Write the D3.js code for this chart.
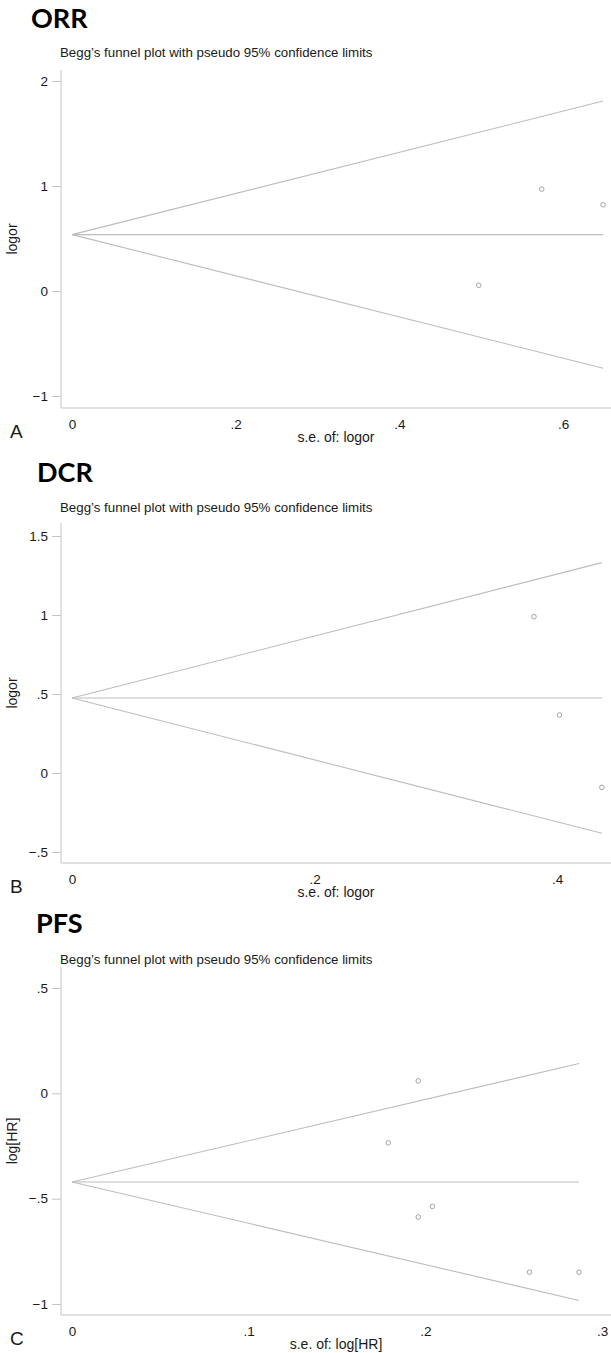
<!DOCTYPE html>
<html>
<head>
<meta charset="utf-8">
<script src="https://cdn.jsdelivr.net/npm/d3@7"></script>
<style>
  html, body { margin: 0; padding: 0; background: #fff; }
  svg { display: block; }
  text { font-family: "Liberation Sans", Arial, Helvetica, sans-serif; fill: #1a1a1a; }
  .ptitle { font-family: Lato, "Open Sans", sans-serif; font-weight: 700; fill: #000; }
</style>
</head>
<body>
<svg id="chart" width="611" height="1353"></svg>
<script>
// ---------------- DATA ----------------
const panelNames = ["ORR", "DCR", "PFS"];
const panelLetters = ["A", "B", "C"];
const subtitle = "Begg\u2019s funnel plot with pseudo 95% confidence limits";
const yTitles = ["logor", "logor", "log[HR]"];
const xTitles = ["s.e. of: logor", "s.e. of: logor", "s.e. of: log[HR]"];

// ORR (panel A)
const orrSe = [0.574, 0.649, 0.497];
const orrLogor = [0.970, 0.821, 0.054];
const orrTheta = 0.537;
const orrXTicks = [0, 0.2, 0.4, 0.6];
const orrXLabels = ["0", ".2", ".4", ".6"];
const orrYTicks = [-1, 0, 1, 2];
const orrYLabels = ["\u22121", "0", "1", "2"];

// DCR (panel B)
const dcrSe = [0.381, 0.402, 0.437];
const dcrLogor = [0.989, 0.367, -0.091];
const dcrTheta = 0.475;
const dcrXTicks = [0, 0.2, 0.4];
const dcrXLabels = ["0", ".2", ".4"];
const dcrYTicks = [-0.5, 0, 0.5, 1, 1.5];
const dcrYLabels = ["\u2212.5", "0", ".5", "1", "1.5"];

// PFS (panel C)
const pfsSe = [0.179, 0.196, 0.196, 0.204, 0.259, 0.287];
const pfsLogHR = [-0.235, 0.059, -0.587, -0.537, -0.849, -0.849];
const pfsTheta = -0.421;
const pfsXTicks = [0, 0.1, 0.2, 0.3];
const pfsXLabels = ["0", ".1", ".2", ".3"];
const pfsYTicks = [-1, -0.5, 0, 0.5];
const pfsYLabels = ["\u22121", "\u2212.5", "0", ".5"];

// ---------------- LAYOUT (pixels) ----------------
const layouts = [
  { titleX: 31, titleY: 28, subY: 57, top: 70, bottom: 408, xr: [72, 563], yd: [-1, 2], yr: [396, 81], xd: [0, 0.6] },
  { titleX: 37, titleY: 482, subY: 512, top: 523, bottom: 863, xr: [72, 557], yd: [-0.5, 1.5], yr: [852, 536], xd: [0, 0.4] },
  { titleX: 36, titleY: 933, subY: 964, top: 967, bottom: 1315, xr: [72, 602], yd: [-1, 0.5], yr: [1304, 988], xd: [0, 0.3] }
];
const axisLeft = 61, axisRight = 611;
const lineColor = "#bdbdbd";
const axisColor = "#c4c4c4";
const pointColor = "#9a9a9a";

const panels = [
  { se: orrSe, est: orrLogor, theta: orrTheta, xt: orrXTicks, xl: orrXLabels, yt: orrYTicks, yl: orrYLabels },
  { se: dcrSe, est: dcrLogor, theta: dcrTheta, xt: dcrXTicks, xl: dcrXLabels, yt: dcrYTicks, yl: dcrYLabels },
  { se: pfsSe, est: pfsLogHR, theta: pfsTheta, xt: pfsXTicks, xl: pfsXLabels, yt: pfsYTicks, yl: pfsYLabels }
];

const svg = d3.select("#chart");

panels.forEach((p, i) => {
  const L = layouts[i];
  const g = svg.append("g");
  const x = d3.scaleLinear().domain(L.xd).range(L.xr);
  const y = d3.scaleLinear().domain(L.yd).range(L.yr);

  // Titles
  g.append("text").attr("class", "ptitle").attr("x", L.titleX).attr("y", L.titleY)
    .attr("font-size", 27).text(panelNames[i]);
  g.append("text").attr("x", 60).attr("y", L.subY).attr("font-size", 13.3).text(subtitle);

  // Axis lines
  g.append("line").attr("x1", axisLeft).attr("x2", axisLeft).attr("y1", L.top).attr("y2", L.bottom)
    .attr("stroke", axisColor).attr("stroke-width", 1);
  g.append("line").attr("x1", axisLeft).attr("x2", axisRight).attr("y1", L.bottom).attr("y2", L.bottom)
    .attr("stroke", axisColor).attr("stroke-width", 1);

  // Y axis via d3.axisLeft
  const yAxis = d3.axisLeft(y).tickValues(p.yt).tickSize(9).tickPadding(4)
    .tickFormat((d, k) => p.yl[k]);
  const ya = g.append("g").attr("transform", `translate(${axisLeft},0)`).call(yAxis);
  ya.select(".domain").remove();
  ya.selectAll(".tick line").attr("stroke", axisColor);
  ya.selectAll(".tick text").attr("font-size", 13.5).attr("fill", "#1a1a1a")
    .style("font-family", "'Liberation Sans', Arial, sans-serif");

  // X axis via d3.axisBottom
  const xAxis = d3.axisBottom(x).tickValues(p.xt).tickSize(0).tickPadding(11)
    .tickFormat((d, k) => p.xl[k]);
  const xa = g.append("g").attr("transform", `translate(0,${L.bottom})`).call(xAxis);
  xa.select(".domain").remove();
  xa.selectAll(".tick text").attr("font-size", 13.5).attr("fill", "#1a1a1a")
    .style("font-family", "'Liberation Sans', Arial, sans-serif");

  // Axis titles
  g.append("text").attr("x", (axisLeft + axisRight) / 2).attr("y", L.bottom + 34)
    .attr("text-anchor", "middle").attr("font-size", 14).text(xTitles[i]);
  const yc = (L.top + L.bottom) / 2;
  g.append("text").attr("transform", `translate(17,${yc}) rotate(-90)`)
    .attr("text-anchor", "middle").attr("font-size", 14).text(yTitles[i]);

  // Panel letter
  g.append("text").attr("x", 10).attr("y", L.bottom + 30).attr("font-size", 19).text(panelLetters[i]);

  // Funnel (pseudo 95% limits)
  const seMax = d3.max(p.se);
  const funnel = [
    [[0, p.theta], [seMax, p.theta + 1.96 * seMax]],
    [[0, p.theta], [seMax, p.theta - 1.96 * seMax]],
    [[0, p.theta], [seMax, p.theta]]
  ];
  const line = d3.line().x(d => x(d[0])).y(d => y(d[1]));
  g.selectAll("path.funnel").data(funnel).enter().append("path")
    .attr("class", "funnel").attr("d", line).attr("fill", "none")
    .attr("stroke", lineColor).attr("stroke-width", 1.1);

  // Points
  g.selectAll("circle").data(p.se.map((s, k) => [s, p.est[k]])).enter().append("circle")
    .attr("cx", d => x(d[0])).attr("cy", d => y(d[1])).attr("r", 2.3)
    .attr("fill", "none").attr("stroke", pointColor).attr("stroke-width", 0.9);
});
</script>
</body>
</html>
